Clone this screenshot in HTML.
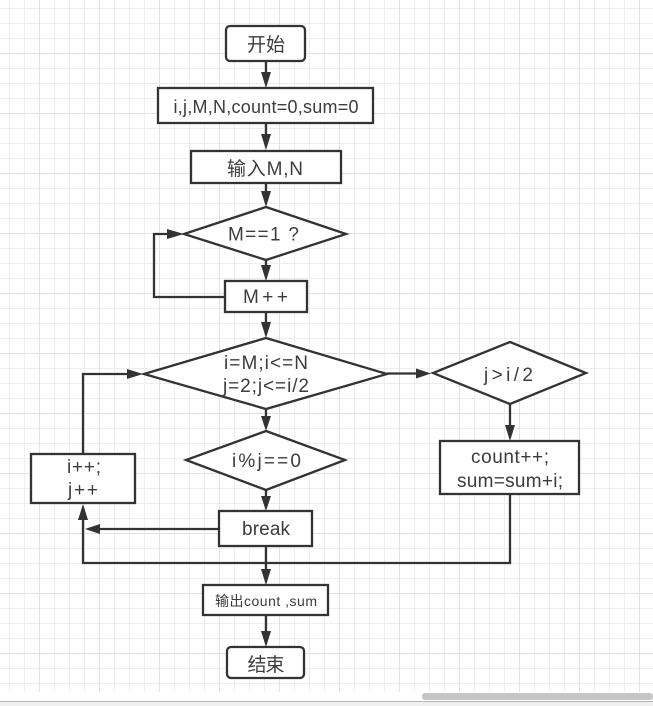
<!DOCTYPE html>
<html>
<head>
<meta charset="utf-8">
<style>
html,body{margin:0;padding:0;width:653px;height:706px;overflow:hidden;background:#fff;position:relative}
#grid{position:absolute;left:0;top:0;width:653px;height:692px;
background-image:
linear-gradient(to right,#e2e2e2 1px,transparent 1px),
linear-gradient(to bottom,#e2e2e2 1px,transparent 1px),
linear-gradient(to right,#eeeeee 1px,transparent 1px),
linear-gradient(to bottom,#eeeeee 1px,transparent 1px);
background-size:60px 60px,60px 60px,15px 15px,15px 15px;
background-position:39px 0,0 53px,9px 0,0 8px}
svg{display:block;position:absolute;left:0;top:0}
text{font-family:"Liberation Sans","Noto Sans CJK SC",sans-serif;fill:#3c3c3c;text-anchor:middle}
</style>
</head>
<body>
<div id="grid"></div>
<svg width="653" height="706" viewBox="0 0 653 706" xmlns="http://www.w3.org/2000/svg">
<rect x="422" y="693" width="231" height="7" rx="3" fill="#c6c6c6"/>
<rect x="0" y="701" width="653" height="1" fill="#b4b4b4"/>
<rect x="0" y="702" width="653" height="4" fill="#f0f0f0"/>

<g fill="none" stroke="#333" stroke-width="2.300">
<path d="M266 61V74M266 123V137M266 183V194M266 260V270M266 312V324M266 409V420M266 490V499M266 546V571M266 615V634"/>
<path d="M225 297H154V234H170"/>
<path d="M83 454V374H130"/>
<path d="M387 373.500H418"/>
<path d="M510 404V427"/>
<path d="M510 494V563H83V516"/>
<path d="M219 529H98"/>
</g>
<g fill="#333" stroke="none">
<path d="M261 72L271 72L266 88Z"/>
<path d="M261 134L271 134L266 150Z"/>
<path d="M261 191L271 191L266 207Z"/>
<path d="M261 265L271 265L266 281Z"/>
<path d="M261 322L271 322L266 338Z"/>
<path d="M261 416L271 416L266 431Z"/>
<path d="M261 496L271 496L266 511Z"/>
<path d="M261 569L271 569L266 585Z"/>
<path d="M261 631L271 631L266 647Z"/>
<path d="M167 229L184 234L167 239Z"/>
<path d="M127 369L143 374L127 379Z"/>
<path d="M416 368.500L431 373.500L416 378.500Z"/>
<path d="M505 425L515 425L510 441Z"/>
<path d="M78 520L88 520L83 504Z"/>
<path d="M100 524L100 534L85 529Z"/>
</g>

<g fill="#fff" stroke="#333" stroke-width="2.300" stroke-linejoin="miter">
<rect x="226" y="26" width="79" height="35" rx="4"/>
<rect x="158" y="88" width="215" height="35"/>
<rect x="191" y="151" width="150" height="32"/>
<polygon points="266,207 346,234 266,260 184,234"/>
<rect x="225" y="281" width="82" height="31"/>
<polygon points="266,338 387,374 266,409 144,374"/>
<polygon points="266,431 345,460 266,490 186,460"/>
<rect x="219" y="511" width="93" height="35"/>
<rect x="31" y="454" width="104" height="49"/>
<polygon points="510,342 586,373 510,404 433,373"/>
<rect x="440" y="441" width="139" height="53"/>
<rect x="203" y="585" width="125" height="30"/>
<rect x="227" y="647" width="77" height="31" rx="4"/>
</g>

<g font-size="19">
<text x="266" y="51" textLength="38">开始</text>
<text x="266" y="113" textLength="185" font-size="18">i,j,M,N,count=0,sum=0</text>
<text x="265" y="175" textLength="76">输入M,N</text>
<text x="263.500" y="240.500" textLength="71">M==1 ?</text>
<text x="265.500" y="303" textLength="45">M++</text>
<text x="266" y="369" textLength="84">i=M;i&lt;=N</text>
<text x="266" y="392" textLength="86">j=2;j&lt;=i/2</text>
<text x="266.500" y="467" textLength="69">i%j==0</text>
<text x="266" y="535" textLength="48">break</text>
<text x="84" y="473" textLength="34">i++;</text>
<text x="83" y="496" textLength="30">j++</text>
<text x="508.500" y="381" textLength="49">j&gt;i/2</text>
<text x="510" y="463" textLength="78">count++;</text>
<text x="510" y="487" textLength="106">sum=sum+i;</text>
<text x="266" y="606" font-size="14" textLength="102">输出count ,sum</text>
<text x="266" y="671" textLength="37">结束</text>
</g>
</svg>
</body>
</html>
